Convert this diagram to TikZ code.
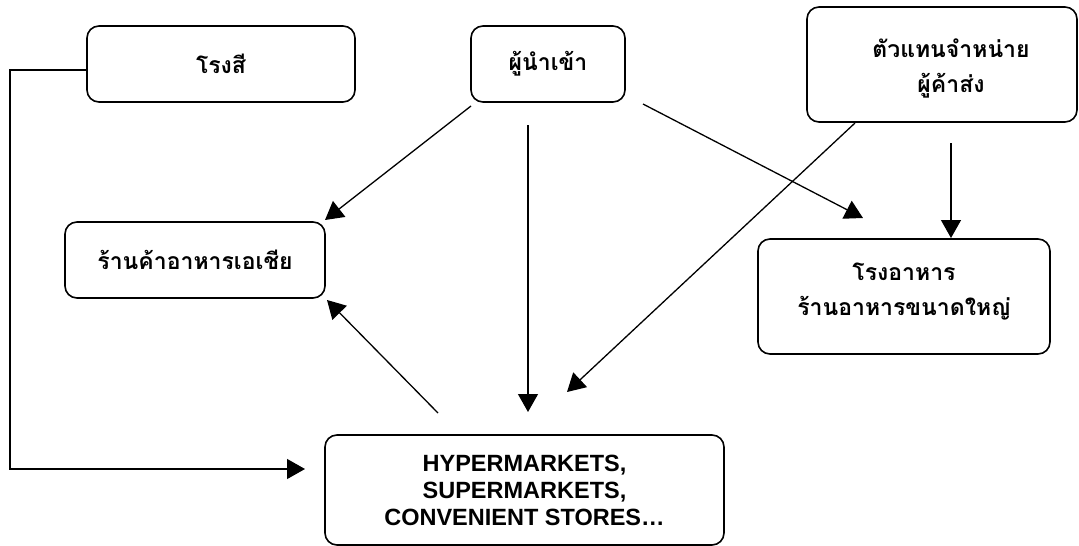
\documentclass[tikz,border=0pt]{standalone}
\usepackage{fontspec}
\setmainfont{Liberation Sans}
\newfontfamily\thaifont[Script=Thai]{Loma}
\usetikzlibrary{arrows.meta}
\begin{document}
\begin{tikzpicture}[x=1pt,y=-1pt,
  box/.style={draw, line width=1.6pt, rounded corners=12pt, inner sep=0pt, align=center},
  thai/.style={font=\thaifont\bfseries\fontsize{23}{35}\selectfont},
  latin/.style={font=\bfseries\fontsize{23.5}{27}\selectfont},
  conn/.style={line width=1.3pt, -{Triangle[length=18pt,width=20pt]}}]
\useasboundingbox (0,0) rectangle (1079,546);
\node[box, thai, minimum width=268pt, minimum height=76pt] (rongsi) at (221,64) {โรงสี};
\node[box, thai, minimum width=154pt, minimum height=76pt] (importer) at (548,64) {ผู้นำเข้า};
\node[box, thai, minimum width=270pt, minimum height=115pt] (agent) at (942,64.5) {};
\node[thai, align=center, inner sep=0pt] (agenttext) at (951,68) {ตัวแทนจำหน่าย\\ผู้ค้าส่ง};
\node[box, thai, minimum width=260pt, minimum height=76pt] (asian) at (195,260) {ร้านค้าอาหารเอเชีย};
\node[box, thai, minimum width=292pt, minimum height=115pt] (canteen) at (904,296.5) {};
\node[thai, align=center, inner sep=0pt] (canteentext) at (904,292) {โรงอาหาร\\ร้านอาหารขนาดใหญ่};
\node[box, latin, minimum width=399pt, minimum height=110pt] (hyper) at (524.5,490) {HYPERMARKETS,\\SUPERMARKETS,\\CONVENIENT STORES…};
% free ends
\coordinate (s1) at (471,106);
\coordinate (e1) at (325,220);
\coordinate (s2) at (528,125);
\coordinate (e2) at (528,412);
\coordinate (s3) at (643,104);
\coordinate (e3) at (863,218);
\coordinate (s4) at (855,123);
\coordinate (e4) at (567,392);
\coordinate (s5) at (951,143);
\coordinate (e5) at (951,238);
\coordinate (s6) at (438,413);
\coordinate (e6) at (327,300);
\coordinate (s7) at (rongsi.west |- 0,70);
\coordinate (c7a) at (10,70);
\coordinate (c7b) at (10,469);
\coordinate (e7) at (305,469);
\draw[conn] (s1) -- (e1);
\draw[conn] (s2) -- (e2);
\draw[conn] (s3) -- (e3);
\draw[conn] (s4) -- (e4);
\draw[conn] (s5) -- (e5);
\draw[conn] (s6) -- (e6);
\draw[conn] (s7) -- (c7a) -- (c7b) -- (e7);
\end{tikzpicture}
\end{document}
